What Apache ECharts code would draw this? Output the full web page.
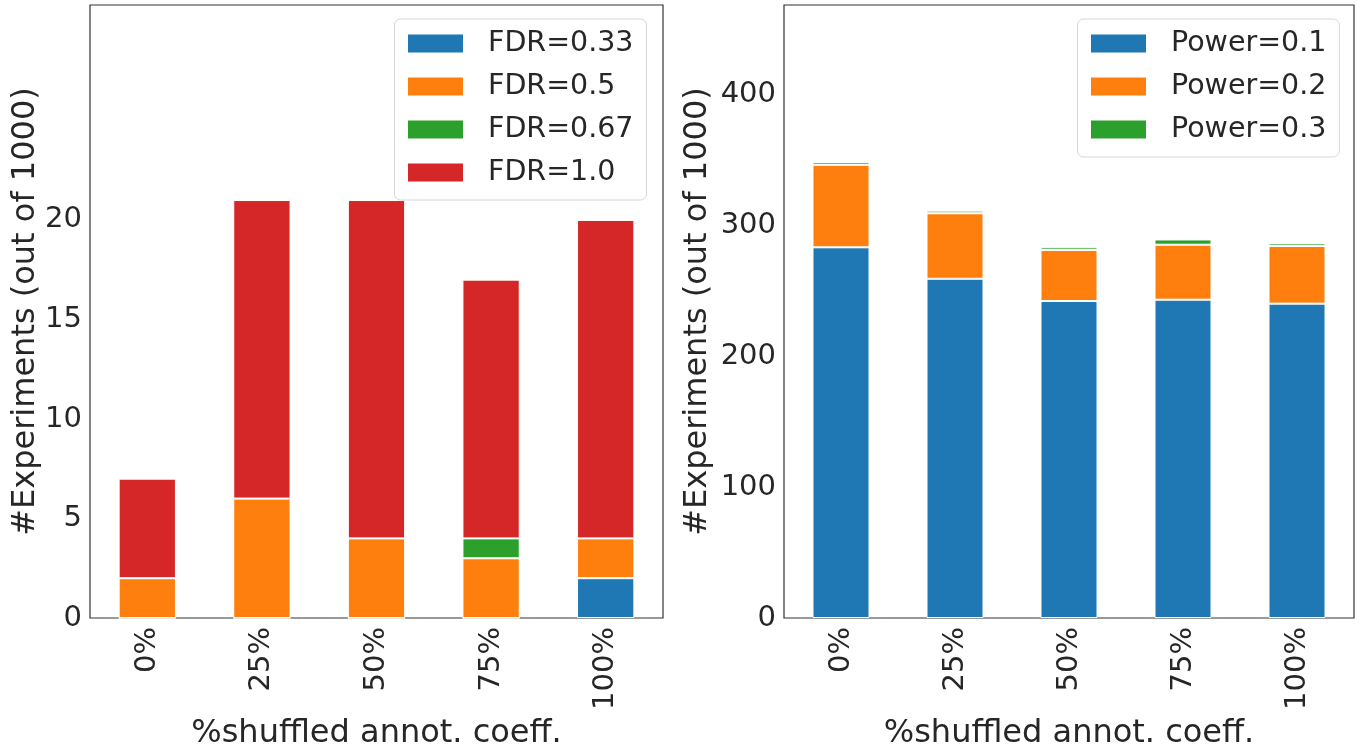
<!DOCTYPE html>
<html>
<head>
<meta charset="utf-8">
<script src="https://cdn.jsdelivr.net/npm/echarts@6/dist/echarts.min.js"></script>
<style>
  html, body { margin: 0; padding: 0; background: #fff; }
  #chart { width: 1360px; height: 745px; }
</style>
</head>
<body>
<div id="chart"></div>
<script>
// Shuffle levels shown on both x axes
const categories = ['0%', '25%', '50%', '75%', '100%'];

// Left panel: experiments per FDR level (stacked)
const fdrNames = ['FDR=0.33', 'FDR=0.5', 'FDR=0.67', 'FDR=1.0'];
const fdr033 = [0, 0, 0, 0, 2];
const fdr05  = [2, 6, 4, 3, 2];
const fdr067 = [0, 0, 0, 1, 0];
const fdr10  = [5, 15, 17, 13, 16];

// Right panel: experiments per power level (stacked)
const powerNames = ['Power=0.1', 'Power=0.2', 'Power=0.3'];
const power01 = [283, 259, 242, 243, 240];
const power02 = [63, 50, 39, 42, 44];
const power03 = [2, 2, 2, 4, 2];

// Tick labels drawn on the value axes
const leftTicks = [0, 5, 10, 15, 20];
const rightTicks = [0, 100, 200, 300, 400];

const colors = ['#1f77b4', '#ff7f0e', '#2ca02c', '#d62728'];
const FONT = 'DejaVu Sans';
const TEXT = '#262626';

const chart = echarts.init(document.getElementById('chart'), null, { renderer: 'canvas' });

function xAxis(gridIndex) {
  return {
    type: 'category',
    gridIndex,
    data: categories,
    axisLine: { show: false },
    axisTick: { show: false },
    axisLabel: { rotate: 90, margin: 9, fontSize: 29, fontFamily: FONT, color: TEXT },
    name: '%shuffled annot. coeff.',
    nameLocation: 'middle',
    nameGap: 86,
    nameTextStyle: { fontSize: 32, fontFamily: FONT, color: TEXT }
  };
}

function yAxis(gridIndex, max, interval, ticks, gap) {
  return {
    type: 'value',
    gridIndex,
    min: 0,
    max,
    interval,
    splitLine: { show: false },
    axisLine: { show: false },
    axisTick: { show: false },
    axisLabel: {
      margin: 8, fontSize: 29, fontFamily: FONT, color: TEXT,
      padding: [4, 0, 0, 0],
      formatter: v => (ticks.indexOf(v) >= 0 ? String(v) : '')
    },
    name: '#Experiments (out of 1000)',
    nameLocation: 'middle',
    nameGap: gap,
    nameTextStyle: { fontSize: 32, fontFamily: FONT, color: TEXT }
  };
}

function bar(name, data, color, axisIndex, stack) {
  return {
    type: 'bar',
    name,
    data,
    stack,
    xAxisIndex: axisIndex,
    yAxisIndex: axisIndex,
    barWidth: '50%',
    itemStyle: { color, borderColor: '#ffffff', borderWidth: 1 },
    emphasis: { disabled: true }
  };
}

function legend(names, left) {
  return {
    data: names,
    orient: 'vertical',
    left,
    top: 19,
    itemWidth: 57,
    itemHeight: 20,
    itemGap: 14,
    icon: 'rect',
    padding: [10, 13, 13, 11.5],
    backgroundColor: '#ffffff',
    borderColor: '#d6d6d6',
    borderWidth: 1,
    borderRadius: 6,
    textStyle: { fontSize: 28.5, fontFamily: FONT, color: TEXT, padding: [0, 0, 0, 19] }
  };
}

function grid(left, width) {
  return {
    left, top: 5, width, height: 613,
    outerBoundsMode: 'none',
    containLabel: false,
    show: true,
    borderColor: '#333333',
    borderWidth: 1.2,
    backgroundColor: 'transparent'
  };
}

const option = {
  animation: false,
  grid: [grid(90, 573), grid(784, 570)],
  xAxis: [xAxis(0), xAxis(1)],
  yAxis: [yAxis(0, 30.8, 5, leftTicks, 47), yAxis(1, 468, 100, rightTicks, 70)],
  legend: [legend(fdrNames, 394.5), legend(powerNames, 1077.5)],
  series: [
    bar(fdrNames[0], fdr033, colors[0], 0, 'fdr'),
    bar(fdrNames[1], fdr05, colors[1], 0, 'fdr'),
    bar(fdrNames[2], fdr067, colors[2], 0, 'fdr'),
    bar(fdrNames[3], fdr10, colors[3], 0, 'fdr'),
    bar(powerNames[0], power01, colors[0], 1, 'power'),
    bar(powerNames[1], power02, colors[1], 1, 'power'),
    bar(powerNames[2], power03, colors[2], 1, 'power')
  ]
};

chart.setOption(option);
</script>
</body>
</html>
